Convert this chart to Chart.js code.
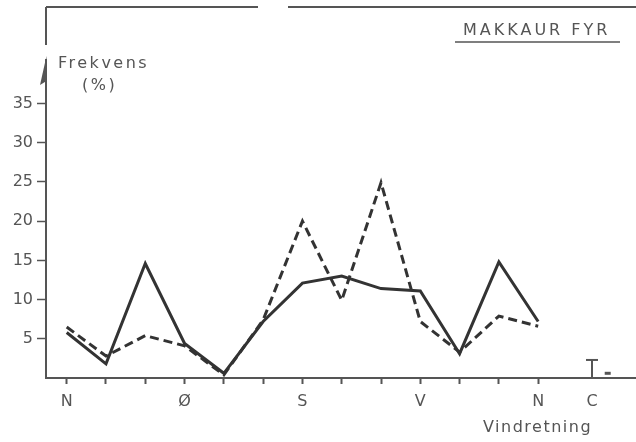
<!DOCTYPE html>
<html>
<head>
<meta charset="utf-8">
<script src="https://cdn.jsdelivr.net/npm/chart.js@4"></script>
<style>
  html, body { margin: 0; padding: 0; background: #fff; }
  #wrap { width: 636px; height: 442px; }
</style>
</head>
<body>
<div id="wrap"><canvas id="chart" width="636" height="442"></canvas></div>
<script>
// Vindretning: 0..12 = N ... N, then calm (C)
const positions = [0, 1, 2, 3, 4, 5, 6, 7, 8, 9, 10, 11, 12];
const dirLabels = ['N', '', '', 'Ø', '', '', 'S', '', '', 'V', '', '', 'N'];
const calmPos = 13.37;
const calmLabel = 'C';

// Frekvens (%)
const solidValues = [5.8, 1.8, 14.6, 4.4, 0.6, 7.2, 12.1, 13.0, 11.4, 11.1, 3.1, 14.8, 7.2];
const dashedValues = [6.5, 2.8, 5.4, 4.1, 0.4, 7.4, 20.0, 9.9, 24.9, 7.2, 3.3, 7.9, 6.6];
const calmSolid = 2.3;
const calmDashed = 0.6;
const calmDashedPos = 13.77;

const yTicks = [5, 10, 15, 20, 25, 30, 35];

const ink = '#333';
const grey = '#555';
const font = 'DejaVu Sans';

const decor = {
    id: 'decor',
    afterDraw(chart) {
        const ctx = chart.ctx;
        const a = chart.chartArea;
        ctx.save();
        ctx.strokeStyle = grey;
        ctx.fillStyle = grey;
        ctx.lineWidth = 2;
        // ramme oppe
        ctx.beginPath();
        ctx.moveTo(a.left, a.top);
        ctx.lineTo(a.left + 212, a.top);
        ctx.moveTo(a.left + 242, a.top);
        ctx.lineTo(a.right, a.top);
        // y-akse med pil
        ctx.moveTo(a.left, a.top);
        ctx.lineTo(a.left, a.top + 38);
        ctx.moveTo(a.left, a.top + 52);
        ctx.lineTo(a.left, a.bottom);
        ctx.stroke();
        ctx.beginPath();
        ctx.moveTo(a.left + 0.5, a.top + 49);
        ctx.lineTo(a.left - 6, a.top + 78);
        ctx.lineTo(a.left + 0.5, a.top + 74);
        ctx.closePath();
        ctx.fill();

        ctx.font = '16px "' + font + '"';
        ctx.textAlign = 'left';
        ctx.textBaseline = 'alphabetic';
        ctx.letterSpacing = '2.5px';
        ctx.fillText('Frekvens', 58, 68);
        ctx.fillText('(%)', 82, 90);

        ctx.letterSpacing = '3px';
        ctx.fillText('MAKKAUR FYR', 463, 35);
        ctx.lineWidth = 1.5;
        ctx.beginPath();
        ctx.moveTo(455, 42);
        ctx.lineTo(620, 42);
        ctx.stroke();

        ctx.letterSpacing = '1.5px';
        ctx.fillText('Vindretning', 483, 432);
        ctx.restore();
    }
};

const ctx = document.getElementById('chart').getContext('2d');
new Chart(ctx, {
    type: 'line',
    data: {
        datasets: [
            {
                data: positions.map((p, i) => ({ x: p, y: solidValues[i] })),
                borderColor: ink,
                borderWidth: 3,
                pointRadius: 0,
                tension: 0
            },
            {
                data: positions.map((p, i) => ({ x: p, y: dashedValues[i] })),
                borderColor: ink,
                borderWidth: 3,
                borderDash: [9, 5],
                pointRadius: 0,
                tension: 0
            },
            {
                // stille (T-merke)
                data: [{ x: calmPos, y: 0 }, { x: calmPos, y: calmSolid }],
                borderColor: grey,
                borderWidth: 2,
                pointStyle: 'line',
                pointRadius: [0, 6],
                pointBorderWidth: 2,
                pointBorderColor: grey
            },
            {
                data: [{ x: calmDashedPos, y: calmDashed }],
                showLine: false,
                pointStyle: 'line',
                pointRadius: 3,
                pointBorderWidth: 3,
                pointBorderColor: grey
            }
        ]
    },
    options: {
        responsive: false,
        animation: false,
        layout: { autoPadding: false, padding: { top: 7, left: 0, right: 0, bottom: 0 } },
        plugins: { legend: { display: false }, tooltip: { enabled: false } },
        scales: {
            x: {
                type: 'linear',
                min: -0.527,
                max: 14.49,
                afterFit: s => { s.height = 64; s.paddingLeft = 0; s.paddingRight = 0; },
                afterBuildTicks: s => {
                    s.ticks = positions.concat([calmPos]).map(v => ({ value: v }));
                },
                border: { display: true, color: grey, width: 2 },
                grid: {
                    drawOnChartArea: false,
                    drawTicks: true,
                    tickLength: 6,
                    tickWidth: 2,
                    tickColor: c => (c.index === positions.length ? 'rgba(0,0,0,0)' : grey)
                },
                ticks: {
                    autoSkip: false,
                    maxRotation: 0,
                    padding: 8,
                    color: grey,
                    font: { family: font, size: 16 },
                    callback: (v, i) => (i < dirLabels.length ? dirLabels[i] : calmLabel)
                }
            },
            y: {
                min: 0,
                max: 47.3,
                afterFit: s => { s.width = 46; s.paddingTop = 0; s.paddingBottom = 0; },
                afterBuildTicks: s => { s.ticks = yTicks.map(v => ({ value: v })); },
                border: { display: false },
                grid: {
                    drawOnChartArea: false,
                    drawTicks: true,
                    tickLength: 9,
                    tickWidth: 1.5,
                    tickColor: grey
                },
                ticks: {
                    padding: 4,
                    color: grey,
                    font: { family: font, size: 16 }
                }
            }
        }
    },
    plugins: [decor]
});
</script>
</body>
</html>
